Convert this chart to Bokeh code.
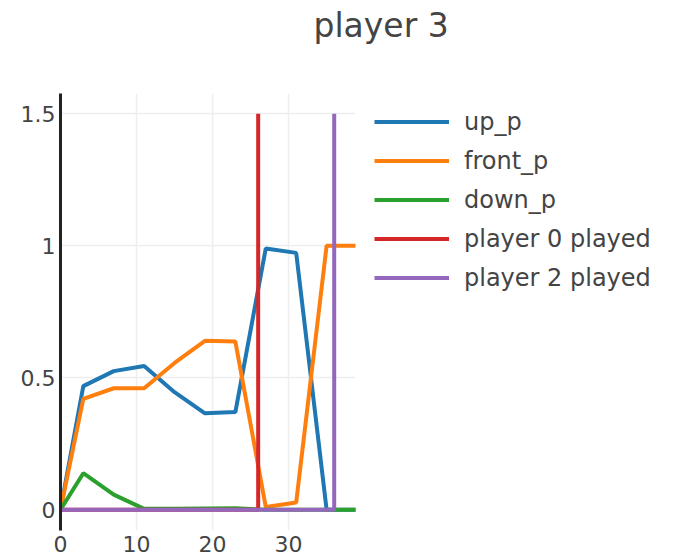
from bokeh.plotting import figure
from bokeh.models import Range1d, Legend, LegendItem, FixedTicker, Title
from bokeh.embed import file_html
from bokeh.resources import INLINE

# data
steps = [0, 3, 7, 11, 15, 19, 23, 27, 31, 35, 39]
up_p = [0, 0.468, 0.525, 0.544, 0.445, 0.365, 0.37, 0.99, 0.973, 0, 0]
front_p = [0, 0.42, 0.46, 0.46, 0.556, 0.64, 0.637, 0.01, 0.027, 1.0, 1.0]
down_p = [0, 0.138, 0.057, 0.003, 0.003, 0.004, 0.005, 0, 0, 0, 0]
p0_x = [0, 26, 26]
p0_y = [0, 0, 1.5]
p2_x = [0, 36, 36]
p2_y = [0, 0, 1.5]
x_ticks = [0, 10, 20, 30]
y_ticks = [0, 0.5, 1, 1.5]
y_tick_labels = {0: "0", 0.5: "0.5", 1: "1", 1.5: "1.5"}
title_text = "player 3"

FONT = "DejaVu Sans"
TXT = "#444444"

p = figure(frame_width=295, frame_height=437, output_backend="svg", toolbar_location=None,
           x_range=Range1d(0, 38.8), y_range=Range1d(-0.079, 1.577),
           min_border_left=60, min_border_right=0, min_border_top=93,
           min_border_bottom=30, title=title_text)
p.outline_line_color = None
p.background_fill_color = "white"

# main title (outermost)
p.title.text_font = FONT
p.title.text_font_size = "33px"
p.title.text_font_style = "normal"
p.title.text_color = TXT
p.title.align = "left"
p.title.offset = 253
p.title.standoff = 0

# spacer between title and plot area
spacer = Title(text=" ", text_font_size="10px", standoff=36)
p.add_layout(spacer, "above")

lw = 4
r_up = p.line(steps, up_p, color="#1f77b4", line_width=lw)
r_front = p.line(steps, front_p, color="#ff7f0e", line_width=lw)
r_down = p.line(steps, down_p, color="#2ca02c", line_width=lw)
r_p0 = p.line(p0_x, p0_y, color="#d62728", line_width=lw)
r_p2 = p.line(p2_x, p2_y, color="#9467bd", line_width=lw)

# axes
p.xaxis.ticker = FixedTicker(ticks=x_ticks)
p.yaxis.ticker = FixedTicker(ticks=y_ticks)
p.yaxis.major_label_overrides = y_tick_labels
for ax in (p.xaxis[0], p.yaxis[0]):
    ax.major_tick_out = 0
    ax.major_tick_in = 0
    ax.minor_tick_out = 0
    ax.minor_tick_in = 0
    ax.major_label_text_font = FONT
    ax.major_label_text_color = TXT
p.xaxis.major_label_text_font_size = "22px"
p.yaxis.major_label_text_font_size = "22px"
p.xaxis.major_label_standoff = 5
p.yaxis.major_label_standoff = 5
p.xaxis.axis_line_color = None
p.yaxis.axis_line_color = "#222222"
p.yaxis.axis_line_width = 3

p.xgrid.grid_line_color = "#eeeeee"
p.ygrid.grid_line_color = "#eeeeee"
p.xgrid.grid_line_width = 1.5
p.ygrid.grid_line_width = 1.5

legend = Legend(items=[
    LegendItem(label="up_p", renderers=[r_up]),
    LegendItem(label="front_p", renderers=[r_front]),
    LegendItem(label="down_p", renderers=[r_down]),
    LegendItem(label="player 0 played", renderers=[r_p0]),
    LegendItem(label="player 2 played", renderers=[r_p2]),
], location=(19, 237))
legend.border_line_color = None
legend.background_fill_alpha = 0
legend.margin = 16
legend.padding = 4
legend.spacing = 8
legend.label_height = 31
legend.glyph_height = 31
legend.glyph_width = 75
legend.label_standoff = 15
legend.label_text_font = FONT
legend.label_text_font_size = "24px"
legend.label_text_color = TXT
p.add_layout(legend, "right")

open("out.html", "w").write(file_html(p, INLINE))
